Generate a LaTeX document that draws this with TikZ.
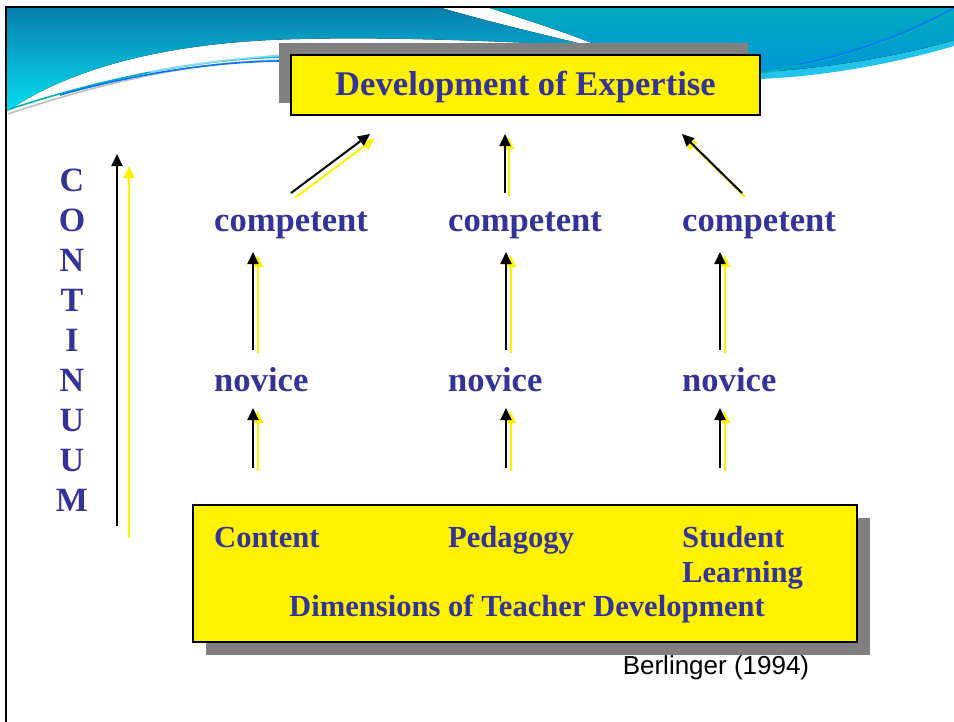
\documentclass[tikz,border=0pt]{standalone}
\usepackage{fontspec}
\setmainfont{Liberation Serif}
\newfontfamily\arialfont{Liberation Sans}
\usetikzlibrary{arrows.meta, shadows}

\definecolor{slideblue}{HTML}{333399}
\definecolor{boxgray}{HTML}{808080}
\definecolor{bannerdark}{HTML}{087EAE}
\definecolor{bannerlight}{HTML}{04DEF0}
\definecolor{bannerteal}{HTML}{00AABE}
\definecolor{bannerblue}{HTML}{0096D8}
\definecolor{bannerrim}{HTML}{22C4EA}

\tikzset{
  stage/.style={text=slideblue, font=\bfseries\fontsize{34.6}{40}\selectfont, anchor=base west, inner sep=0pt},
  dimtext/.style={text=slideblue, font=\bfseries\fontsize{30.6}{35}\selectfont, anchor=base west, inner sep=0pt},
  titlebox/.style={draw=black, line width=1.5pt, fill=yellow, minimum width=469pt, minimum height=60pt,
    drop shadow={shadow xshift=-12pt, shadow yshift=12pt, fill=boxgray, opacity=1}},
  dimbox/.style={draw=black, line width=1.5pt, fill=yellow, minimum width=664pt, minimum height=137pt,
    drop shadow={shadow xshift=13pt, shadow yshift=-13pt, fill=boxgray, opacity=1}},
  upblack/.style={line width=2pt, -{Triangle[length=12pt, width=11pt]}},
  upyellow/.style={upblack, yellow},
  streak/.style={line width=1.6pt},
}

% yellow copy first, shifted, then the black arrow on top
\newcommand{\pairarrow}[3]{
  \draw[upyellow] ([shift={#3}]#1) -- ([shift={#3}]#2);
  \draw[upblack] (#1) -- (#2);
}

\begin{document}
\begin{tikzpicture}[x=1pt, y=-1pt]
\useasboundingbox (0,0) rectangle (954,721);

% banner
\fill[top color=bannerdark, bottom color=bannerlight] (6,7) -- (438,7)
  .. controls (500,25) and (550,36) .. (590,46)
  .. controls (480,40) and (380,37) .. (300,39)
  .. controls (150,42) and (60,75) .. (6,112) -- cycle;
\fill[bannerrim] (602,47) .. controls (640,66) and (700,80) .. (760,79)
  .. controls (830,76) and (900,62) .. (954,46) -- (954,36)
  .. controls (880,56) and (820,66) .. (760,68) -- cycle;
\fill[top color=bannerteal, bottom color=bannerblue] (487,7) -- (954,7) -- (954,40)
  .. controls (900,56) and (830,68) .. (760,72)
  .. controls (700,74) and (640,62) .. (602,47)
  .. controls (560,30) and (520,18) .. (487,7) -- cycle;
\draw[streak, gray!50] (8,114) .. controls (80,90) and (180,62) .. (280,60);
\draw[streak, teal!60!cyan] (10,109) .. controls (80,86) and (180,60) .. (280,57);
\draw[streak, blue!55!cyan] (60,95) .. controls (120,78) and (200,62) .. (280,61);
\draw[streak, cyan!45] (150,72) .. controls (190,64) and (240,58) .. (285,55);
\draw[streak, teal!60!cyan] (760,73) .. controls (840,60) and (900,38) .. (954,12);
\draw[streak, blue!55!cyan] (800,64) .. controls (860,52) and (910,32) .. (954,8);

% frame
\draw[line width=1.5pt] (6,730) -- (6,7) -- (960,7);

% boxes
\node[titlebox] (expertise) at (525.5,85) {};
\node[text=slideblue, font=\bfseries\fontsize{34.6}{40}\selectfont] (title) at (525.5,87) {Development of Expertise};
\node[dimbox] (dimensions) at (525,573.5) {};

\node[dimtext] (content) at (214,547) {Content};
\node[dimtext] (pedagogy) at (448,547) {Pedagogy};
\node[dimtext] (student) at (682,547) {Student};
\node[dimtext] (learning) at (682,582) {Learning};
\node[dimtext] (teacherdev) at (289,616) {Dimensions of Teacher Development};

% stages
\node[stage] (competent1) at (214,231) {competent};
\node[stage] (competent2) at (448,231) {competent};
\node[stage] (competent3) at (682,231) {competent};
\node[stage] (novice1) at (214,391) {novice};
\node[stage] (novice2) at (448,391) {novice};
\node[stage] (novice3) at (682,391) {novice};

\node[text=slideblue, font=\bfseries\fontsize{34}{40}\selectfont, align=center, inner sep=0pt]
  (continuum) at (72,340) {C\\O\\N\\T\\I\\N\\U\\U\\M};

\node[font=\arialfont\fontsize{26}{30}\selectfont, inner sep=0pt] (source) at (716,668) {Berlinger (1994)};

% arrow ends
\coordinate (foot1) at (253,468);
\coordinate (nov1) at (253,408);
\coordinate (nov1up) at (253,350);
\coordinate (comp1) at (253,252);
\coordinate (comp1up) at (291,193);
\coordinate (top1) at (370,134);

\coordinate (foot2) at (506,468);
\coordinate (nov2) at (506,408);
\coordinate (nov2up) at (506,350);
\coordinate (comp2) at (506,252);
\coordinate (comp2up) at (505,193);
\coordinate (top2) at (505,134);

\coordinate (foot3) at (720,468);
\coordinate (nov3) at (720,408);
\coordinate (nov3up) at (720,350);
\coordinate (comp3) at (720,252);
\coordinate (comp3up) at (742,193);
\coordinate (top3) at (682,134);

\coordinate (contlow) at (117,526);
\coordinate (conthigh) at (117,154);

\pairarrow{foot1}{nov1}{(4.5,3)}
\pairarrow{nov1up}{comp1}{(4.5,3)}
\pairarrow{comp1up}{top1}{(4.5,4.5)}
\pairarrow{foot2}{nov2}{(4.5,3)}
\pairarrow{nov2up}{comp2}{(4.5,3)}
\pairarrow{comp2up}{top2}{(3.5,3)}
\pairarrow{foot3}{nov3}{(4.5,3)}
\pairarrow{nov3up}{comp3}{(4.5,3)}
\pairarrow{comp3up}{top3}{(3,4)}
\pairarrow{contlow}{conthigh}{(12,12)}

\end{tikzpicture}
\end{document}
